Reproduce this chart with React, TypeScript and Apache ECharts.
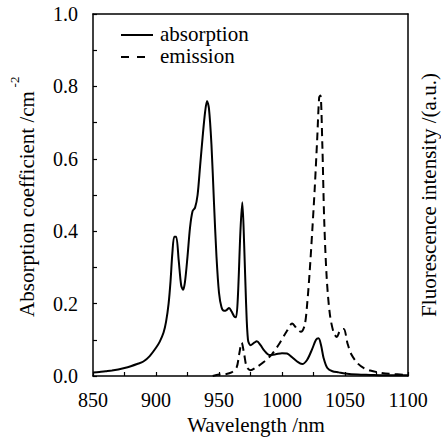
import React, { useEffect, useRef } from "react";
import * as echarts from "echarts";

const absWavelength = [850, 855, 860, 865, 870, 875, 880, 885, 890, 895, 900, 903, 906, 908, 910, 911.5, 913, 914.5, 916, 918, 920, 921.5, 923, 925, 927, 929, 931, 933, 935, 937, 939, 940.5, 942, 944, 946, 948, 950, 952, 954, 956, 958, 960, 962, 963.5, 965, 967, 968.5, 970, 971.5, 973, 975, 978, 980, 983, 986, 990, 995, 1000, 1004, 1008, 1012, 1016, 1020, 1024, 1027, 1029, 1031, 1033, 1036, 1040, 1045, 1050, 1060, 1070, 1080, 1100];
const absValues = [0.010, 0.011, 0.013, 0.015, 0.018, 0.022, 0.027, 0.033, 0.040, 0.055, 0.078, 0.095, 0.120, 0.150, 0.200, 0.260, 0.340, 0.385, 0.385, 0.320, 0.250, 0.238, 0.260, 0.330, 0.410, 0.455, 0.465, 0.500, 0.580, 0.660, 0.730, 0.760, 0.740, 0.640, 0.480, 0.330, 0.230, 0.190, 0.180, 0.182, 0.188, 0.178, 0.165, 0.162, 0.220, 0.400, 0.480, 0.360, 0.200, 0.100, 0.085, 0.092, 0.096, 0.085, 0.070, 0.058, 0.060, 0.063, 0.062, 0.052, 0.040, 0.033, 0.045, 0.075, 0.100, 0.104, 0.085, 0.050, 0.022, 0.013, 0.010, 0.007, 0.004, 0.003, 0.002, 0.002];

const emWavelength = [945, 950, 955, 960, 964, 966, 968, 970, 972, 975, 980, 986, 992, 998, 1004, 1008, 1012, 1015, 1018, 1020, 1022, 1024, 1026, 1028, 1029.5, 1030.5, 1032, 1033.5, 1035.5, 1038, 1041, 1043.5, 1046, 1049, 1052, 1055, 1060, 1065, 1070, 1078, 1085, 1100];
const emValues = [0.000, 0.004, 0.005, 0.010, 0.024, 0.060, 0.092, 0.060, 0.025, 0.016, 0.025, 0.040, 0.060, 0.090, 0.125, 0.145, 0.130, 0.122, 0.140, 0.200, 0.290, 0.400, 0.520, 0.660, 0.770, 0.775, 0.640, 0.430, 0.270, 0.170, 0.120, 0.108, 0.125, 0.130, 0.090, 0.060, 0.035, 0.022, 0.015, 0.009, 0.006, 0.003];

const seriesNames = ["absorption", "emission"];
const xName = "Wavelength /nm";
const yLeftName = "Absorption coefficient /cm";
const yLeftSup = "-2";
const yRightName = "Fluorescence intensity /(a.u.)";

const FONT = "Times";

export default function App() {
  const ref = useRef<HTMLDivElement>(null);
  useEffect(() => {
    document.body.style.margin = "0";
    if (!ref.current) return;
    const chart = echarts.init(ref.current, null, { renderer: "svg" });
    const axisLineStyle = { color: "#000", width: 1.5 };
    chart.setOption({
      animation: false,
      grid: { left: 93, right: 33, top: 14, bottom: 71 },
      xAxis: [
        {
          type: "value",
          min: 850,
          max: 1100,
          interval: 50,
          axisLine: { show: true, onZero: false, lineStyle: axisLineStyle },
          axisTick: { show: true, inside: true, length: 4, lineStyle: { color: "#000", width: 1.2 } },
          minorTick: { show: true, splitNumber: 2, length: 4, lineStyle: { color: "#000", width: 1.2 } },
          axisLabel: { fontSize: 20, fontFamily: FONT, color: "#000", margin: 14, formatter: (v: number) => String(v) },
          splitLine: { show: false },
        },
        {
          type: "value",
          position: "top",
          min: 850,
          max: 1100,
          interval: 50,
          axisLine: { show: true, onZero: false, lineStyle: axisLineStyle },
          axisTick: { show: false },
          axisLabel: { show: false },
          splitLine: { show: false },
        },
      ],
      yAxis: [
        {
          type: "value",
          min: 0,
          max: 1,
          interval: 0.2,
          axisLine: { show: true, onZero: false, lineStyle: axisLineStyle },
          axisTick: { show: true, inside: true, length: 4, lineStyle: { color: "#000", width: 1.2 } },
          minorTick: { show: true, splitNumber: 2, length: 4, lineStyle: { color: "#000", width: 1.2 } },
          axisLabel: {
            fontSize: 20,
            fontFamily: FONT,
            color: "#000",
            margin: 15,
            formatter: (v: number) => v.toFixed(1),
          },
          splitLine: { show: false },
        },
        {
          type: "value",
          position: "right",
          min: 0,
          max: 1,
          interval: 0.2,
          axisLine: { show: true, onZero: false, lineStyle: axisLineStyle },
          axisTick: { show: false },
          axisLabel: { show: false },
          splitLine: { show: false },
        },
      ],
      series: [
        {
          name: seriesNames[0],
          type: "line",
          data: absWavelength.map((x, i) => [x, absValues[i]]),
          showSymbol: false,
          smooth: 0.3,
          lineStyle: { color: "#000", width: 2 },
          xAxisIndex: 0,
          yAxisIndex: 0,
        },
        {
          name: seriesNames[1],
          type: "line",
          data: emWavelength.map((x, i) => [x, emValues[i]]),
          showSymbol: false,
          smooth: 0.3,
          lineStyle: { color: "#000", width: 2, type: [8, 5] },
          xAxisIndex: 0,
          yAxisIndex: 1,
        },
      ],
      graphic: [
        {
          type: "line",
          shape: { x1: 121, y1: 35, x2: 153, y2: 35 },
          style: { stroke: "#000", lineWidth: 2 },
        },
        {
          type: "text",
          x: 160,
          y: 34,
          style: { text: seriesNames[0], fontSize: 21, fontFamily: FONT, fill: "#000", align: "left", verticalAlign: "middle" },
        },
        {
          type: "line",
          shape: { x1: 121, y1: 57, x2: 146, y2: 57 },
          style: { stroke: "#000", lineWidth: 2, lineDash: [8, 8] },
        },
        {
          type: "text",
          x: 160,
          y: 56,
          style: { text: seriesNames[1], fontSize: 21, fontFamily: FONT, fill: "#000", align: "left", verticalAlign: "middle" },
        },
        {
          type: "text",
          x: 256,
          y: 425,
          style: { text: xName, fontSize: 21, fontFamily: FONT, fill: "#000", align: "center", verticalAlign: "middle" },
        },
        {
          type: "text",
          x: 27,
          y: 204,
          rotation: Math.PI / 2,
          style: { text: yLeftName, fontSize: 21, fontFamily: FONT, fill: "#000", align: "center", verticalAlign: "middle" },
        },
        {
          type: "text",
          x: 14,
          y: 82,
          rotation: Math.PI / 2,
          style: { text: yLeftSup, fontSize: 13, fontFamily: FONT, fill: "#000", align: "center", verticalAlign: "middle" },
        },
        {
          type: "text",
          x: 429,
          y: 195,
          rotation: Math.PI / 2,
          style: { text: yRightName, fontSize: 21, fontFamily: FONT, fill: "#000", align: "center", verticalAlign: "middle" },
        },
      ],
    });
    return () => chart.dispose();
  }, []);
  return <div ref={ref} style={{ width: 441, height: 447 }} />;
}
